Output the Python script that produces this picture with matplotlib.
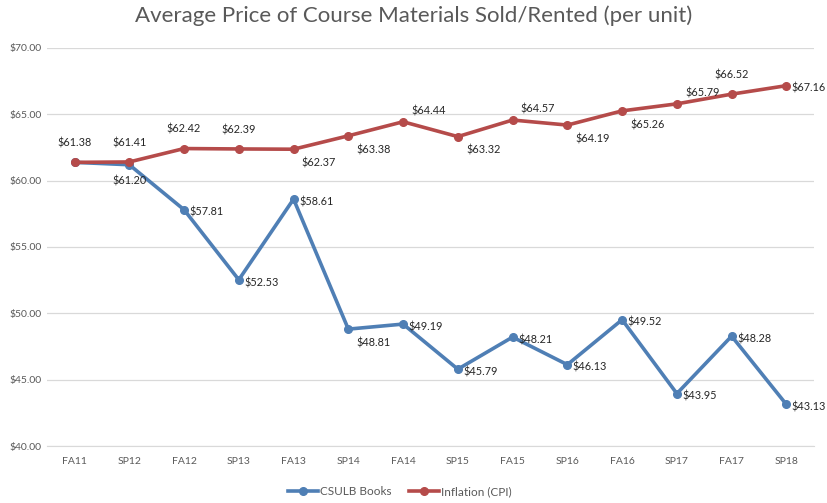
import matplotlib
matplotlib.use("Agg")
import matplotlib.pyplot as plt
from matplotlib.ticker import FuncFormatter, MultipleLocator

terms = ["FA11", "SP12", "FA12", "SP13", "FA13", "SP14", "FA14",
         "SP15", "FA15", "SP16", "FA16", "SP17", "FA17", "SP18"]
books = [61.38, 61.20, 57.81, 52.53, 58.61, 48.81, 49.19,
         45.79, 48.21, 46.13, 49.52, 43.95, 48.28, 43.13]
cpi = [61.38, 61.41, 62.42, 62.39, 62.37, 63.38, 64.44,
       63.32, 64.57, 64.19, 65.26, 65.79, 66.52, 67.16]

# label placement (offset in points, alignment)
cpi_pos = ["up", "up", "up", "up", "dr", "dr", "ur", "dr", "ur", "dr", "dr", "ur", "up", "r"]
book_pos = [None, "down", "r", "r", "r", "dr", "r", "r", "r", "r", "r", "r", "r", "r"]

plt.rcParams['font.family'] = ['Lato', 'DejaVu Sans']

fig = plt.figure(figsize=(8.27, 5.03), dpi=100)
ax = fig.add_axes([0.057, 0.1133, 0.927, 0.7913])

blue = "#4F7FB5"
red = "#B54B4A"
x = list(range(len(terms)))
ax.plot(x, books, color=blue, lw=2.6, marker="o", ms=5.5, label="CSULB Books", zorder=3)
ax.plot(x, cpi, color=red, lw=2.6, marker="o", ms=5.5, label="Inflation (CPI)", zorder=3)

offsets = {
    "up": ((0, 10), "center", "bottom"),
    "down": ((0, -8), "center", "top"),
    "r": ((4, -2), "left", "center"),
    "dr": ((6, -6), "left", "top"),
    "ur": ((6, 4), "left", "bottom"),
}

def label(xs, ys, pos):
    for xi, yi, p in zip(xs, ys, pos):
        if p is None:
            continue
        off, ha, va = offsets[p]
        ax.annotate(f"${yi:.2f}", (xi, yi), xytext=off, textcoords="offset points",
                    ha=ha, va=va, fontsize=7.8, color="#262626", zorder=4,
                    annotation_clip=False)

label(x, cpi, cpi_pos)
label(x, books, book_pos)

ax.set_xlim(-0.5, len(terms) - 0.5)
ax.set_ylim(40, 70)
ax.yaxis.set_major_locator(MultipleLocator(5))
ax.yaxis.set_major_formatter(FuncFormatter(lambda v, p: f"${v:.2f}"))
ax.set_xticks(x)
ax.set_xticklabels(terms)
ax.grid(axis="y", color="#D9D9D9", lw=0.9)
ax.set_axisbelow(True)
for s in ["top", "right", "left"]:
    ax.spines[s].set_visible(False)
ax.spines["bottom"].set_color("#D9D9D9")
ax.tick_params(axis="both", length=0, labelsize=7.5, colors="#595959", pad=8)
ax.tick_params(axis="y", pad=4)

fig.suptitle("Average Price of Course Materials Sold/Rented (per unit)",
             y=0.99, fontsize=16, color="#595959")
ax.legend(loc="upper center", bbox_to_anchor=(0.46, -0.075), ncol=2, frameon=False,
          fontsize=8.5, labelcolor="#595959", handlelength=2.5, columnspacing=1.5,
          handletextpad=0.2)

fig.savefig("out.png", dpi=100)
